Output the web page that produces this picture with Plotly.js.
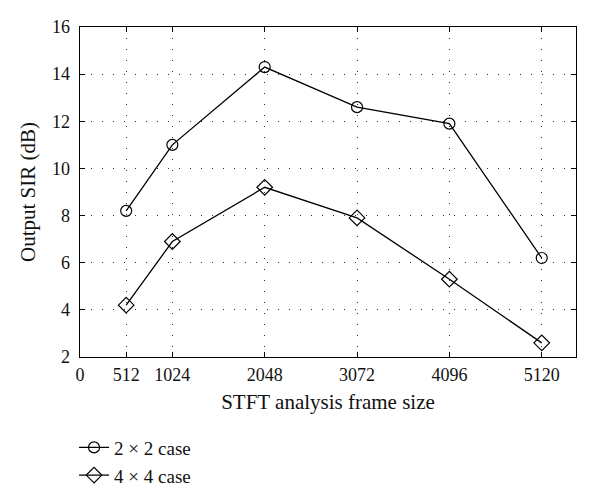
<!DOCTYPE html>
<html><head><meta charset="utf-8">
<script src="https://cdn.plot.ly/plotly-3.0.1.min.js"></script>
<style>body{margin:0;background:#fff}#chart{width:600px;height:503px}</style>
</head><body><div id="chart"></div>
<script>
const frameSizes = [512, 1024, 2048, 3072, 4096, 5120];
const sir2x2 = [8.2, 11.0, 14.3, 12.6, 11.9, 6.2];
const sir4x4 = [4.2, 6.9, 9.2, 7.9, 5.3, 2.6];
const xTicks = [0, 512, 1024, 2048, 3072, 4096, 5120];
const yTicks = [2, 4, 6, 8, 10, 12, 14, 16];
const seriesNames = ["2 \u00d7 2 case", "4 \u00d7 4 case"];

const fam = "Liberation Serif, DejaVu Serif, serif";
const tickFont = {family: fam, size: 18, color: "#111"};
const titleFont = {family: fam, size: 21, color: "#111"};
const legendFont = {family: fam, size: 19, color: "#111"};
const traces = [
  {x: frameSizes, y: sir2x2, name: seriesNames[0], mode: "lines+markers", type: "scatter",
   line: {color: "#000", width: 1.3}, marker: {symbol: "circle-open", size: 11, color: "#000", line: {width: 1.2}}},
  {x: frameSizes, y: sir4x4, name: seriesNames[1], mode: "lines+markers", type: "scatter",
   line: {color: "#000", width: 1.3}, marker: {symbol: "diamond-open", size: 12, color: "#000", line: {width: 1.2}}}
];
const axisCommon = {showline: true, linecolor: "#000", linewidth: 1.3, mirror: "ticks", ticks: "inside",
  ticklen: 5, tickcolor: "#000", tickwidth: 1, showgrid: true, gridcolor: "#333", gridwidth: 1,
  griddash: "1px,10px", zeroline: false, tickfont: tickFont, automargin: false};
const layout = {
  width: 600, height: 503, margin: {l: 80, r: 24, t: 27, b: 146},
  paper_bgcolor: "#fff", plot_bgcolor: "#fff", font: tickFont, showlegend: true,
  xaxis: Object.assign({}, axisCommon, {range: [0, 5500], tickvals: xTicks, ticktext: xTicks.map(String),
    ticklabelstandoff: 1, title: {text: "STFT analysis frame size", font: titleFont, standoff: 10}}),
  yaxis: Object.assign({}, axisCommon, {range: [2, 16], tickvals: yTicks, ticktext: yTicks.map(String),
    ticklabelstandoff: 5, title: {text: "Output SIR (dB)", font: titleFont, standoff: 10}}),
  legend: {x: -0.012, xanchor: "left", yref: "container", y: 0.148, yanchor: "top", font: legendFont,
    bgcolor: "rgba(0,0,0,0)", tracegroupgap: 0, itemwidth: 30}
};
Plotly.newPlot("chart", traces, layout, {displayModeBar: false, staticPlot: true});
</script></body></html>
